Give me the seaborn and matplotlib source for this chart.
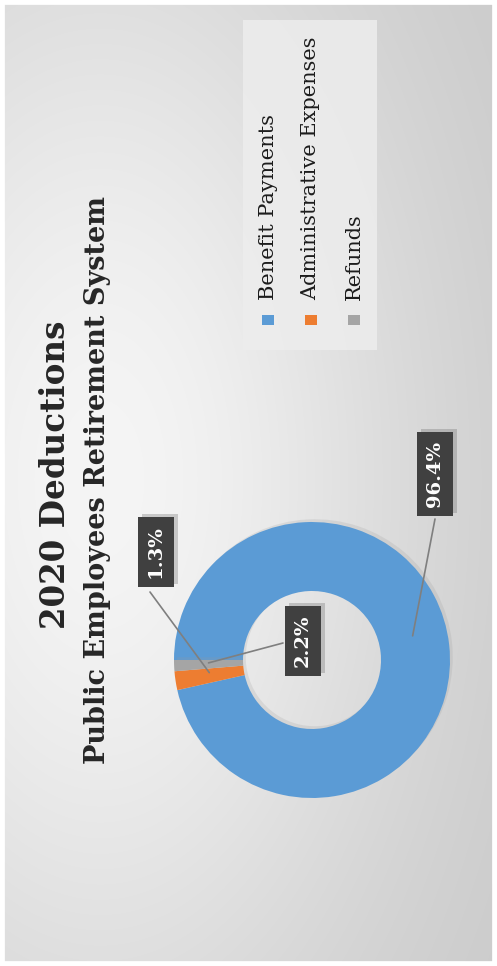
import numpy as np
import matplotlib
matplotlib.use("Agg")
import matplotlib.pyplot as plt
import matplotlib.patheffects as pe
from matplotlib.patches import Rectangle
import seaborn as sns

categories = ["Benefit Payments", "Administrative Expenses", "Refunds"]
shares = [96.4, 2.2, 1.3]
pct_labels = ["96.4%", "2.2%", "1.3%"]
title = "2020 Deductions"
subtitle = "Public Employees Retirement System"

colors = ["#5B9BD5", "#ED7D31", "#A5A5A5"]

sns.set_theme(style="white")
plt.rcParams["font.family"] = ["DejaVu Serif", "DejaVu Sans"]

W, H = 497, 966
fig = plt.figure(figsize=(W / 100, H / 100), dpi=100)
ax = fig.add_axes([0, 0, 1, 1])

# grey gradient background (pixel coords, y up)
xx, yy = np.meshgrid(np.arange(W), np.arange(H))
v = 0.78 + 0.18 * np.exp(-(((xx - 100) / 330.0) ** 2 + ((yy - 486) / 600.0) ** 2))
bg = np.dstack([v, v, v])
ax.imshow(bg, extent=(0, W, 0, H), origin="lower", zorder=0)
# thin white frame
ax.add_patch(Rectangle((0, 0), W, H, fill=False, ec="white", lw=7, zorder=1))

# donut (rotated chart: starts at 9 o'clock, clockwise)
cx, cy, r_out = 312, 306, 138
ring = 0.5
wedges, _ = ax.pie(shares, colors=colors, startangle=180, counterclock=False,
                   center=(cx, cy), radius=r_out, frame=True,
                   wedgeprops=dict(width=r_out * ring, linewidth=0))
for w in wedges:
    w.set_zorder(3)
    w.set_path_effects([pe.SimplePatchShadow(offset=(2, 2), shadow_rgbFace="#999999", alpha=0.2), pe.Normal()])

# data labels with leader lines
label_box = [(435, 492), (303, 325), (156, 414)]   # box centres
line_angle = [13.5, 181.6, 187.0]
line_start = [(435, 447), (283, 323), (150, 374)]
r_mid = r_out * (1 - ring / 2)
for lab, (bx, by), ang, (sx, sy) in zip(pct_labels, label_box, line_angle, line_start):
    ex = cx + r_mid * np.cos(np.radians(ang))
    ey = cy + r_mid * np.sin(np.radians(ang))
    ax.plot([sx, ex], [sy, ey], color="#7f7f7f", lw=1.2, zorder=4)
    t = ax.text(bx, by, lab, rotation=90, ha="center", va="center", color="white",
                fontsize=14, fontweight="bold", zorder=5,
                bbox=dict(boxstyle="square,pad=0.45", fc="#404040", ec="none"))
    t.get_bbox_patch().set_path_effects([
        pe.SimplePatchShadow(offset=(3, 2), shadow_rgbFace="#666666", alpha=0.3), pe.Normal()])

# titles
ax.text(56, 491, title, rotation=90, ha="center", va="center", fontsize=23.5,
        fontweight="bold", color="#262626", zorder=5)
ax.text(98, 486, subtitle, rotation=90, ha="center", va="center", fontsize=19.5,
        fontweight="bold", color="#262626", zorder=5)

# legend drawn rotated
ax.add_patch(Rectangle((243, 616), 134, 330, fc="#ededed", ec="none", alpha=0.85, zorder=2))
for i, (name, c) in enumerate(zip(categories, colors)):
    lx = 268 + i * 43
    ax.add_patch(Rectangle((lx - 6, 641), 12, 10, fc=c, ec="none", zorder=3))
    ax.text(lx, 666, name, rotation=90, ha="center", va="bottom", fontsize=15,
            color="#1c1c1c", zorder=4)

ax.set_xlim(0, W)
ax.set_ylim(0, H)
ax.set_aspect("auto")
ax.axis("off")
fig.savefig("out.png", dpi=100)
